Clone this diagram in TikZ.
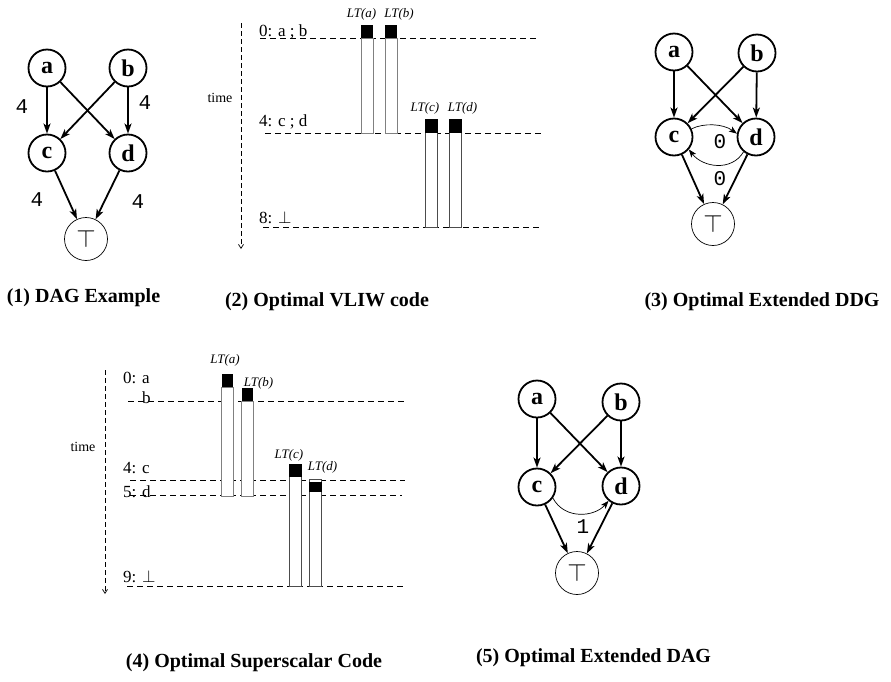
\documentclass[tikz,border=0pt]{standalone}
\usepackage{fontspec}
\setmainfont{Liberation Serif}
\newfontfamily\lblmono{Liberation Mono}
\usetikzlibrary{arrows.meta}
\begin{document}
\begin{tikzpicture}[x=1pt,y=-1pt,
  vtx/.style={circle,draw,line width=1.8pt,minimum size=37pt,inner sep=0pt,font=\fontsize{24}{24}\selectfont\bfseries},
  topv/.style={circle,draw,line width=0.7pt,minimum size=43pt,inner sep=0pt,font=\fontsize{26}{26}\selectfont},
  dep/.style={line width=1.8pt,-{Stealth[length=10pt,width=7pt,inset=2.5pt]}},
  thindep/.style={line width=0.7pt,-{Stealth[length=8pt,width=6pt,inset=2pt]}},
  wt/.style={font=\lblmono\fontsize{21}{21}\selectfont,inner sep=0pt},
  captext/.style={font=\fontsize{20}{20}\selectfont\bfseries,inner sep=0pt},
  tlabel/.style={font=\fontsize{17}{17}\selectfont,inner sep=0pt,anchor=base west},
  ltlabel/.style={font=\fontsize{13}{13}\selectfont\itshape,inner sep=0pt,anchor=base},
  timelbl/.style={font=\fontsize{14}{14}\selectfont,inner sep=0pt,anchor=base},
  slot/.style={dash pattern=on 6pt off 4pt,line width=0.7pt},
  axis/.style={dash pattern=on 5pt off 3pt,line width=0.7pt,-{Straight Barb[length=4pt,width=5pt]}},
  bar/.style={draw=gray,fill=white,line width=0.8pt},
  busy/.style={fill=black},
]
\useasboundingbox[fill=white] (0,0) rectangle (891,681);

% ---------- (1) DAG example ----------
\node[vtx] (a1) at (47,68) {a};
\node[vtx] (b1) at (128,68) {b};
\node[vtx] (c1) at (47,153) {c};
\node[vtx] (d1) at (128,153) {d};
\node[topv] (t1) at (86,239) {$\top$};
\draw[dep] (a1) -- (c1);
\draw[dep] (a1) -- (d1);
\draw[dep] (b1) -- (c1);
\draw[dep] (b1) -- (d1);
\draw[dep] (c1) -- (t1);
\draw[dep] (d1) -- (t1);
\node[wt] (w1) at (22,107) {4};
\node[wt] (w2) at (145,103) {4};
\node[wt] (w3) at (37,200) {4};
\node[wt] (w4) at (138,202) {4};
\node[captext] (cap1) at (83.5,298) {(1) DAG Example};

% ---------- (2) VLIW code ----------
\coordinate (ax2s) at (241,23);
\coordinate (ax2e) at (241,249);
\draw[axis] (ax2s) -- (ax2e);
\node[timelbl] (time2) at (220,102) {time};
\node[tlabel] (l20) at (259,36) {0: a ; b};
\node[tlabel] (l24) at (259,126) {4: c ; d};
\node[tlabel] (l28) at (259,223) {8: $\perp$};
\draw[slot] (260,38.3) -- (538,38.3);
\draw[slot] (265,133.3) -- (541,133.3);
\draw[slot] (263,227.7) -- (541,227.7);
\draw[bar] (361,38.3) rectangle (373.3,133.3);
\fill[busy] (361,25) rectangle (373.3,38.3);
\draw[bar] (385,38.3) rectangle (397.3,133.3);
\fill[busy] (385,25) rectangle (397.3,38.3);
\draw[bar,draw=black!70] (425,132.7) rectangle (437.7,227.7);
\fill[busy] (425,119.3) rectangle (437.7,132.7);
\draw[bar,draw=black!70] (449.3,132.7) rectangle (461.7,227.7);
\fill[busy] (449.3,119.3) rectangle (461.7,132.7);
\node[ltlabel] (lta2) at (361.5,17) {LT(a)};
\node[ltlabel] (ltb2) at (399,17) {LT(b)};
\node[ltlabel] (ltc2) at (425,111) {LT(c)};
\node[ltlabel] (ltd2) at (462.5,111) {LT(d)};
\node[captext] (cap2) at (327,302) {(2) Optimal VLIW code};

% ---------- (3) Extended DDG ----------
\node[vtx] (a3) at (674,52) {a};
\node[vtx] (b3) at (757,53) {b};
\node[vtx] (c3) at (674,137) {c};
\node[vtx] (d3) at (756,137) {d};
\node[topv] (t3) at (713,224) {$\top$};
\draw[dep] (a3) -- (c3);
\draw[dep] (a3) -- (d3);
\draw[dep] (b3) -- (c3);
\draw[dep] (b3) -- (d3);
\draw[dep] (c3) -- (t3);
\draw[dep] (d3) -- (t3);
\draw[thindep] (c3.25) .. controls +(12,-6) and +(-14,-10) .. (d3.170);
\draw[thindep] (d3.230) .. controls +(-12,20) and +(14,18) .. (c3.-40);
\node[wt] (w5) at (720,142) {0};
\node[wt] (w6) at (720,179) {0};
\node[captext] (cap3) at (762,302) {(3) Optimal Extended DDG};

% ---------- (4) Superscalar code ----------
\coordinate (ax4s) at (105,370);
\coordinate (ax4e) at (105,594);
\draw[axis] (ax4s) -- (ax4e);
\node[timelbl] (time4) at (83,451) {time};
\node[tlabel] (l40) at (123,383) {0: a};
\node[tlabel] (l40b) at (142,403) {b};
\node[tlabel] (l44) at (123,473) {4: c};
\node[tlabel] (l45) at (123,497) {5: d};
\node[tlabel] (l49) at (123,582) {9: $\perp$};
\draw[slot] (128,401) -- (405,401);
\draw[slot] (130,480.7) -- (405,480.7);
\draw[slot] (130,495.7) -- (402,495.7);
\draw[slot] (127,586.7) -- (404,586.7);
\draw[bar] (221.7,387.3) rectangle (233.3,496.7);
\fill[busy] (221.7,374.3) rectangle (233.3,387.3);
\draw[bar] (241.7,401) rectangle (253.3,496.7);
\fill[busy] (241.7,388.3) rectangle (253.3,401);
\draw[bar,draw=black!70] (289.3,476.7) rectangle (301.7,586.7);
\fill[busy] (289.3,464) rectangle (301.7,476.7);
\draw[bar,draw=black!70] (309.3,479.3) rectangle (321.7,586.7);
\fill[busy] (309.3,481.7) rectangle (321.7,492.3);
\node[ltlabel] (lta4) at (225,363) {LT(a)};
\node[ltlabel] (ltb4) at (258.5,386) {LT(b)};
\node[ltlabel] (ltc4) at (289,458) {LT(c)};
\node[ltlabel] (ltd4) at (322.5,470) {LT(d)};
\node[captext] (cap4) at (254,663) {(4) Optimal Superscalar Code};

% ---------- (5) Extended DAG ----------
\node[vtx] (a5) at (537,399) {a};
\node[vtx] (b5) at (621,402) {b};
\node[vtx] (c5) at (537,487) {c};
\node[vtx] (d5) at (621,486) {d};
\node[topv] (t5) at (577,573) {$\top$};
\draw[dep] (a5) -- (c5);
\draw[dep] (a5) -- (d5);
\draw[dep] (b5) -- (c5);
\draw[dep] (b5) -- (d5);
\draw[dep] (c5) -- (t5);
\draw[dep] (d5) -- (t5);
\draw[thindep] (c5.-35) .. controls +(12,22) and +(-14,16) .. (d5.-130);
\node[wt] (w7) at (583,527) {1};
\node[captext] (cap5) at (593.5,658) {(5) Optimal Extended DAG};
\end{tikzpicture}
\end{document}
